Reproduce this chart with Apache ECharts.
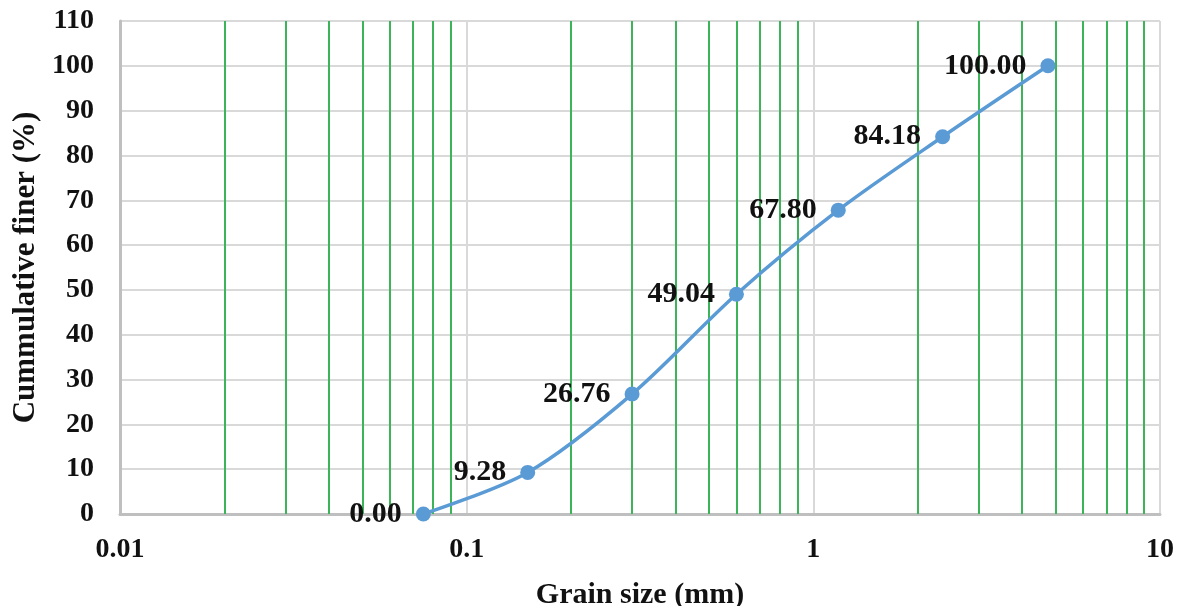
<!DOCTYPE html>
<html>
<head>
<meta charset="utf-8">
<script src="https://cdn.jsdelivr.net/npm/echarts@6/dist/echarts.min.js"></script>
<style>
  html, body { margin: 0; padding: 0; background: #fff; }
  #chart { width: 1182px; height: 606px; }
</style>
</head>
<body>
<div id="chart"></div>
<script>
const grainSizes = [0.075, 0.15, 0.3, 0.6, 1.18, 2.36, 4.75];
const percentFiner = [0.00, 9.28, 26.76, 49.04, 67.80, 84.18, 100.00];
const minorGridSizes = [
  0.02, 0.03, 0.04, 0.05, 0.06, 0.07, 0.08, 0.09,
  0.2, 0.3, 0.4, 0.5, 0.6, 0.7, 0.8, 0.9,
  2, 3, 4, 5, 6, 7, 8, 9
];

const font = '"Liberation Serif", "Times New Roman", serif';
const chart = echarts.init(document.getElementById('chart'));

const option = {
  backgroundColor: '#fff',
  animation: false,
  grid: { left: 120, right: 22, top: 21, bottom: 92, outerBoundsMode: 'none', containLabel: false },
  xAxis: {
    type: 'log',
    logBase: 10,
    min: 0.01,
    max: 10,
    name: 'Grain size (mm)',
    nameLocation: 'middle',
    nameGap: 66,
    nameTextStyle: { fontFamily: font, fontWeight: 'bold', fontSize: 30, color: '#111' },
    axisLine: { lineStyle: { color: '#bfbfbf', width: 3 } },
    axisTick: { show: false },
    splitLine: { show: true, lineStyle: { color: '#d9d9d9', width: 2 } },
    axisLabel: {
      fontFamily: font, fontWeight: 'bold', fontSize: 28, color: '#111', margin: 22,
      formatter: (v) => String(+v.toPrecision(3))
    }
  },
  yAxis: {
    type: 'value',
    min: 0,
    max: 110,
    interval: 10,
    name: 'Cummulative finer (%)',
    nameLocation: 'middle',
    nameGap: 76,
    nameTextStyle: { fontFamily: font, fontWeight: 'bold', fontSize: 31, color: '#111' },
    axisLine: { show: true, lineStyle: { color: '#bfbfbf', width: 3 } },
    axisTick: { show: false },
    splitLine: { lineStyle: { color: '#d9d9d9', width: 2 } },
    axisLabel: { fontFamily: font, fontWeight: 'bold', fontSize: 28, color: '#111', margin: 26 }
  },
  series: [{
    type: 'line',
    data: grainSizes.map((x, i) => [x, percentFiner[i]]),
    smooth: 0.3,
    symbol: 'circle',
    symbolSize: 15,
    lineStyle: { color: '#5b9bd5', width: 3.5 },
    itemStyle: { color: '#5b9bd5' },
    label: {
      show: true,
      position: 'left',
      distance: 14,
      fontFamily: font,
      fontWeight: 'bold',
      fontSize: 30,
      color: '#111',
      formatter: (p) => p.value[1].toFixed(2)
    },
    markLine: {
      silent: true,
      symbol: 'none',
      label: { show: false },
      lineStyle: { color: '#3cb55a', width: 2, type: 'solid' },
      data: minorGridSizes.map((x) => ({ xAxis: x }))
    },
    z: 5
  }]
};

chart.setOption(option);
</script>
</body>
</html>
